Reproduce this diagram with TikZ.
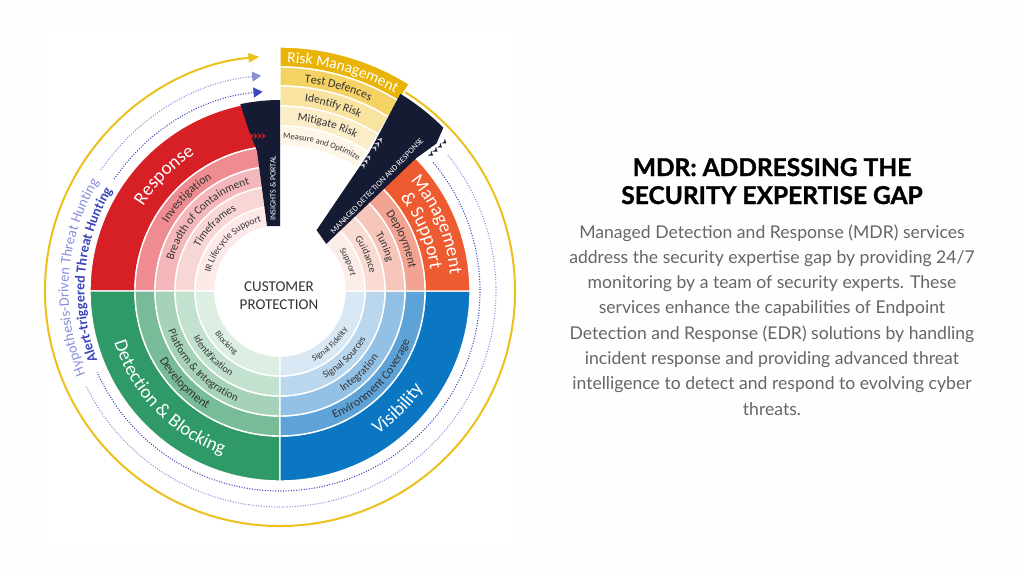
\documentclass[tikz,border=0pt]{standalone}
\usepackage{fontspec}
\setmainfont{Carlito}
\newfontfamily\latofont{Lato}
\usetikzlibrary{decorations.text,arrows.meta}
\definecolor{redA}{HTML}{D71F26}
\definecolor{redB}{HTML}{EE8C91}
\definecolor{redC}{HTML}{F5B8BA}
\definecolor{redD}{HTML}{F9D6D6}
\definecolor{redE}{HTML}{FCE9E8}
\definecolor{grnA}{HTML}{2F9A68}
\definecolor{grnB}{HTML}{78BB98}
\definecolor{grnC}{HTML}{A5D2B8}
\definecolor{grnD}{HTML}{C3E1CF}
\definecolor{grnE}{HTML}{DDEEE3}
\definecolor{bluA}{HTML}{0B77C3}
\definecolor{bluB}{HTML}{5DA3D7}
\definecolor{bluC}{HTML}{93C1E5}
\definecolor{bluD}{HTML}{BAD7EE}
\definecolor{bluE}{HTML}{D9E8F5}
\definecolor{orgA}{HTML}{EE5B31}
\definecolor{orgB}{HTML}{F3A392}
\definecolor{orgC}{HTML}{F7C6BA}
\definecolor{orgD}{HTML}{FADBD2}
\definecolor{orgE}{HTML}{FDEDE8}
\definecolor{ylwA}{HTML}{E9B308}
\definecolor{ylwB}{HTML}{F5D264}
\definecolor{ylwC}{HTML}{F9E3A0}
\definecolor{ylwD}{HTML}{FBEDC8}
\definecolor{ylwE}{HTML}{FEF7E8}
\definecolor{navy}{HTML}{151B33}
\definecolor{gold}{HTML}{EDC01C}
\definecolor{purpL}{HTML}{8A8FDA}
\definecolor{purpD}{HTML}{3E47B9}
\definecolor{txtdark}{HTML}{333333}
\definecolor{bodygrey}{HTML}{666666}
\definecolor{wisp}{HTML}{C9CDD8}
\definecolor{pagebg}{HTML}{FEFEFD}

\newcommand\annsec[5]{\fill[#1,draw=white,line width=1.4pt] (#2:#4) arc[start angle=#2,end angle=#3,radius=#4] -- (#3:#5) arc[start angle=#3,end angle=#2,radius=#5] -- cycle;}
\newcommand\arclabel[5]{\path[decorate,decoration={text along path,text align=center,text={|#4|#5}}] (#1:#3) arc[start angle=#1,end angle=#2,radius=#3];}

\tikzset{
  chevron/.pic={\fill (-2.5,3) -- (1.8,0) -- (-2.5,-3) -- (-1,0) -- cycle;},
  dotline/.style={line width=1.1pt,dash pattern=on 1pt off 1.6pt},
  bodyline/.style={anchor=base,text=bodygrey,font=\latofont\fontsize{17.6}{21}\selectfont},
  titleline/.style={anchor=base,text=black,font=\latofont\bfseries\addfontfeatures{FakeBold=1.2}\fontsize{24.5}{28}\selectfont}
}

\begin{document}
\begin{tikzpicture}[x=1pt,y=1pt]
\path[use as bounding box,fill=pagebg] (-280,-285) rectangle (744,291);
\fill[white] (-233,258) rectangle (235,-257);

% outer yellow circle with arrow
\draw[gold,line width=2pt,-{Triangle[length=11pt,width=9pt]}] (60:235) arc[start angle=60,end angle=-265,radius=235];

% dotted threat hunting arcs
\draw[purpL,dotline] (39:216) arc[start angle=39,end angle=-154,radius=216];
\draw[purpL,dotline,-{Triangle[length=9pt,width=10pt]}] (146:216) arc[start angle=146,end angle=95,radius=216];
\draw[purpD,dotline] (40:200) arc[start angle=40,end angle=-156,radius=200];
\draw[purpD,dotline,-{Triangle[length=9pt,width=10pt]}] (146:200) arc[start angle=146,end angle=95,radius=200];

% red quadrant
\annsec{redA}{90}{180}{145}{190}
\annsec{redB}{90}{180}{125}{145}
\annsec{redC}{90}{180}{105}{125}
\annsec{redD}{90}{180}{85}{105}
\annsec{redE}{90}{180}{65}{85}
% green quadrant
\annsec{grnA}{180}{270}{145}{190}
\annsec{grnB}{180}{270}{125}{145}
\annsec{grnC}{180}{270}{105}{125}
\annsec{grnD}{180}{270}{85}{105}
\annsec{grnE}{180}{270}{65}{85}
% blue quadrant
\annsec{bluA}{270}{360}{145}{190}
\annsec{bluB}{270}{360}{125}{145}
\annsec{bluC}{270}{360}{105}{125}
\annsec{bluD}{270}{360}{85}{105}
\annsec{bluE}{270}{360}{65}{85}
% orange wedge
\annsec{orgA}{0}{46}{145}{190}
\annsec{orgB}{0}{46}{125}{145}
\annsec{orgC}{0}{46}{105}{125}
\annsec{orgD}{0}{46}{85}{105}
\annsec{orgE}{0}{46}{65}{85}
% yellow risk management wedge
\annsec{ylwA}{58}{90}{224}{244}
\annsec{ylwB}{58}{90}{205}{224}
\annsec{ylwC}{58}{90}{185}{205}
\annsec{ylwD}{58}{90}{165}{185}
\annsec{ylwE}{58}{90}{145}{165}

% managed detection and response band
\fill[navy] (59:71) -- (45.5:66) -- (44.3:190) -- (43.3:215) -- (45:231) arc[start angle=45,end angle=58.6,radius=231] -- (57.2:165) -- cycle;
% insights & portal bar
\fill[navy] (90:191) arc[start angle=90,end angle=102,radius=191] -- (-31,160) -- (-23,140) -- (-13,65) -- (0,65) -- cycle;

% red chevrons in portal bar
\foreach \x in {-28,-24,-20,-16} \pic[redA] at (\x,155) {chevron};
% light wisps on MDR band
\foreach \r in {151,156,161,172,177,182} \pic[wisp,rotate=52] at (56.4:\r) {chevron};
% dark wisps outside MDR band
\foreach \r in {204,210,216,222} \pic[navy,rotate=-35] at (42:\r) {chevron};

% band texts
\node[text=white,rotate=90,font=\fontsize{8}{8}\selectfont] (insights) at (-7,103) {INSIGHTS \& PORTAL};
\node[text=white,rotate=46,font=\fontsize{8.2}{8.2}\selectfont] (mdrband) at (97,105) {MANAGED DETECTION AND RESPONSE};

% centre
\node[text=txtdark,font=\fontsize{15}{18}\selectfont] (cust) at (-1,4) {CUSTOMER};
\node[text=txtdark,font=\fontsize{15}{18}\selectfont] (prot) at (-1,-14) {PROTECTION};

% red labels
\arclabel{180}{90}{161}{\fontsize{19}{19}\selectfont\color{white}}{Response}
\arclabel{180}{90}{131}{\fontsize{12}{12}\selectfont\color{txtdark}}{Investigation}
\arclabel{180}{90}{111}{\fontsize{11.5}{12}\selectfont\color{txtdark}}{Breadth of Containment}
\arclabel{180}{90}{91.5}{\fontsize{11}{12}\selectfont\color{txtdark}}{Timeframes}
\arclabel{180}{90}{72}{\fontsize{9.5}{10}\selectfont\color{txtdark}}{IR Lifecycle Support}
% green labels
\arclabel{184}{264}{173.5}{\fontsize{19}{19}\selectfont\color{white}}{Detection {\&} Blocking}
\arclabel{184}{264}{139}{\fontsize{12.5}{13}\selectfont\color{txtdark}}{Development}
\arclabel{184}{264}{118.6}{\fontsize{11}{12}\selectfont\color{txtdark}}{Platform {\&} Integration}
\arclabel{184}{264}{98.3}{\fontsize{10}{11}\selectfont\color{txtdark}}{Identification}
\arclabel{184}{264}{77.8}{\fontsize{8.5}{9}\selectfont\color{txtdark}}{Blocking}
% blue labels
\arclabel{-85}{-5}{173.5}{\fontsize{19}{19}\selectfont\color{white}}{Visibility}
\arclabel{-84}{-4}{139}{\fontsize{12}{13}\selectfont\color{txtdark}}{Environment Coverage}
\arclabel{-86}{-6}{118.6}{\fontsize{11}{12}\selectfont\color{txtdark}}{Integration}
\arclabel{-86}{-6}{98.3}{\fontsize{10}{11}\selectfont\color{txtdark}}{Signal Sources}
\arclabel{-87}{-7}{77.8}{\fontsize{8.5}{9}\selectfont\color{txtdark}}{Signal Fidelity}
% orange labels
\arclabel{62}{-16}{171}{\fontsize{19}{19}\selectfont\color{white}}{Management}
\arclabel{62}{-16}{152}{\fontsize{19}{19}\selectfont\color{white}}{{\&} Support}
\arclabel{63}{-17}{131}{\fontsize{12}{13}\selectfont\color{txtdark}}{Deployment}
\arclabel{63}{-17}{111}{\fontsize{11}{12}\selectfont\color{txtdark}}{Tuning}
\arclabel{63}{-17}{91.5}{\fontsize{10}{11}\selectfont\color{txtdark}}{Guidance}
\arclabel{63}{-17}{72}{\fontsize{9}{10}\selectfont\color{txtdark}}{Support}
% yellow labels
\arclabel{114}{34}{228.5}{\fontsize{15.5}{16}\selectfont\color{white}}{Risk Management}
\arclabel{114}{34}{210}{\fontsize{12}{13}\selectfont\color{txtdark}}{Test Defences}
\arclabel{114}{34}{191}{\fontsize{11.5}{12}\selectfont\color{txtdark}}{Identify Risk}
\arclabel{114}{34}{171}{\fontsize{11.5}{12}\selectfont\color{txtdark}}{Mitigate Risk}
\arclabel{114}{34}{152}{\fontsize{8.5}{9}\selectfont\color{txtdark}}{Measure and Optimize}
% threat hunting labels
\arclabel{236}{116}{211.5}{\fontsize{14.5}{15}\selectfont\color{purpL}}{Hypothesis-Driven Threat Hunting}
\arclabel{235}{115}{195.5}{\fontsize{14}{15}\selectfont\bfseries\color{purpD}}{Alert-triggered Threat Hunting}

% right-hand text
\node[titleline] (t1) at (492,115) {MDR: ADDRESSING THE};
\node[titleline] (t2) at (492,87) {SECURITY EXPERTISE GAP};
\node[bodyline] (b1) at (492,53) {Managed Detection and Response (MDR) services};
\node[bodyline] (b2) at (492,27.7) {address the security expertise gap by providing 24/7};
\node[bodyline] (b3) at (492,2.4) {monitoring by a team of security experts. These};
\node[bodyline] (b4) at (492,-22.9) {services enhance the capabilities of Endpoint};
\node[bodyline] (b5) at (492,-48.2) {Detection and Response (EDR) solutions by handling};
\node[bodyline] (b6) at (492,-73.5) {incident response and providing advanced threat};
\node[bodyline] (b7) at (492,-98.8) {intelligence to detect and respond to evolving cyber};
\node[bodyline] (b8) at (492,-124.1) {threats.};
\end{tikzpicture}
\end{document}
